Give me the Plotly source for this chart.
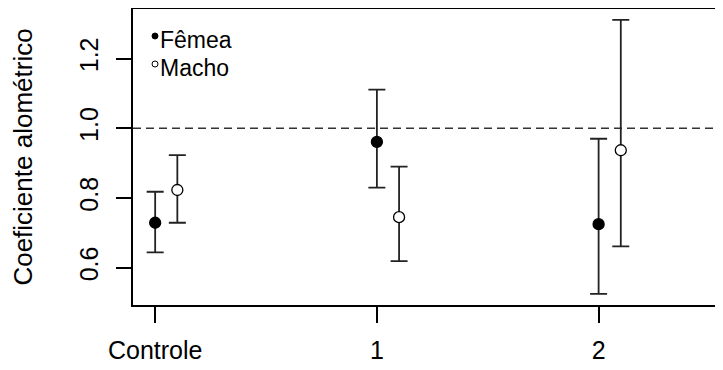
import plotly.graph_objects as go

# ---- data ----
groups = ["Controle", "1", "2"]
group_pos = [0, 1, 2]
offset_macho = 0.1

femea_mean = [0.729, 0.961, 0.725]
femea_upper = [0.818, 1.111, 0.970]
femea_lower = [0.644, 0.830, 0.525]

macho_mean = [0.823, 0.745, 0.937]
macho_upper = [0.923, 0.890, 1.311]
macho_lower = [0.729, 0.619, 0.661]

y_ticks = [0.6, 0.8, 1.0, 1.2]
y_tick_labels = ["0.6", "0.8", "1.0", "1.2"]
ref_line = 1.0

FONT = "Liberation Sans, Arial, sans-serif"
LINE = "#222222"

# page body has an 8px default margin; the figure is sized to compensate
W, H = 715, 362
ML, MT, MB, MR = 125, 1, 65, 0
PW, PH = W - ML - MR, H - MT - MB

fig = go.Figure()

def add_series(xs, mean, up, lo, filled, name):
    fig.add_trace(go.Scatter(
        x=xs, y=mean, mode="markers", name=name, showlegend=False,
        marker=dict(size=11, color="black" if filled else "white",
                    line=dict(color="black", width=1.3), symbol="circle"),
        error_y=dict(type="data", symmetric=False,
                     array=[u - m for u, m in zip(up, mean)],
                     arrayminus=[m - l for m, l in zip(mean, lo)],
                     color=LINE, thickness=1.8, width=8.5),
    ))

add_series(group_pos, femea_mean, femea_upper, femea_lower, True, "Fêmea")
add_series([g + offset_macho for g in group_pos], macho_mean, macho_upper, macho_lower, False, "Macho")

# reference dashed line
fig.add_shape(type="line", xref="paper", yref="y", x0=0, x1=1, y0=ref_line, y1=ref_line,
              line=dict(color="#333333", width=1.5, dash="8px,5px"), layer="below")

# legend (drawn manually, R-style); positions in px from plot top-left
legend_items = [("Fêmea", True, 31), ("Macho", False, 59)]
for label, filled, ypx in legend_items:
    fig.add_annotation(text=label, xref="paper", yref="paper",
                       x=25 / PW, y=1 - ypx / PH,
                       xanchor="left", yanchor="middle", showarrow=False,
                       font=dict(family=FONT, size=23, color="black"))
    fig.add_shape(type="circle", xref="paper", yref="paper",
                  xsizemode="pixel", ysizemode="pixel",
                  xanchor=22 / PW, yanchor=1 - (ypx - 4) / PH,
                  x0=-3, x1=3, y0=-3, y1=3,
                  fillcolor="black" if filled else "white",
                  line=dict(color="black", width=1))

fig.update_layout(
    width=W, height=H,
    margin=dict(l=ML, r=MR, t=MT, b=MB, autoexpand=False),
    paper_bgcolor="white", plot_bgcolor="white",
    font=dict(family=FONT, size=22, color="black"),
    xaxis=dict(range=[-0.1, 2.561], tickmode="array", tickvals=group_pos, ticktext=groups,
               showgrid=False, zeroline=False, showline=True, mirror=True, automargin=False,
               linecolor="black", linewidth=1.5, ticks="outside", ticklen=16,
               tickwidth=1.5, tickcolor="black", tickfont=dict(size=25),
               ticklabelstandoff=6),
    yaxis=dict(range=[0.493, 1.3423], tickmode="array", tickvals=y_ticks, ticktext=y_tick_labels,
               showgrid=False, zeroline=False, showline=True, mirror=False, automargin=False,
               linecolor="black", linewidth=1.5, ticks="outside", ticklen=15,
               tickwidth=1.5, tickcolor="black", tickangle=-90, tickfont=dict(size=25),
               ticklabelstandoff=8,
               title=dict(text="Coeficiente alométrico", font=dict(size=26), standoff=35)),
)

fig.write_html("out.html")
